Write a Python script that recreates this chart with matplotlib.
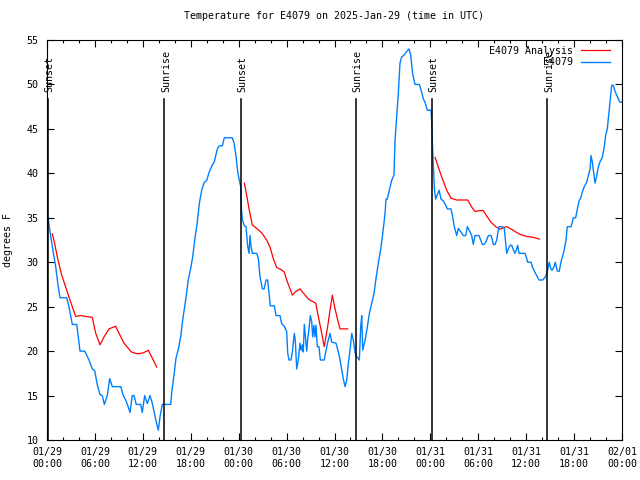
import matplotlib
matplotlib.use("Agg")
import matplotlib.pyplot as plt
from matplotlib.ticker import MultipleLocator, FixedLocator

# ---- data (hours since 2025-01-29 00:00 UTC, degrees F) ----
obs_hours = [0.13, 0.38, 0.66, 1.09, 1.38, 1.63, 2.47, 2.75, 3.17, 3.72, 3.92, 4.13, 4.72, 5.26, 5.67, 5.97,
             6.30, 6.64, 6.92, 7.18, 7.55, 7.85, 8.18, 9.23, 9.55, 9.85, 10.14, 10.39, 10.68, 10.89, 11.18,
             11.73, 11.93, 12.23, 12.56, 12.90, 13.19, 13.40, 13.69, 13.94, 14.15, 14.44, 15.49,
             15.62, 15.90, 16.15, 16.44, 16.74, 16.99, 17.15, 17.40, 17.69, 17.99, 18.24, 18.53, 18.82,
             19.07, 19.37, 19.70, 20.00, 20.29, 20.62, 20.95, 21.32, 21.57, 21.95, 22.20, 23.20, 23.42,
             23.67, 23.88, 24.08, 24.26, 24.29, 24.35, 24.46, 24.71, 24.92, 25.13, 25.30, 25.42, 25.55,
             25.71, 26.26, 26.46, 26.67, 26.96, 27.20, 27.42, 27.63, 27.84, 27.96, 28.46, 28.67, 29.17,
             29.38, 29.71, 30.01, 30.14, 30.30, 30.55, 30.72, 30.97, 31.09, 31.27, 31.47, 31.68, 31.81,
             31.97, 32.09, 32.22, 32.40, 32.52, 32.65, 32.81, 32.97, 33.15, 33.27, 33.43, 33.56, 33.68,
             33.85, 34.06, 34.22, 34.72, 34.90, 35.15, 35.44, 35.65, 36.19, 36.48, 36.69, 36.90, 37.10,
             37.32, 37.53, 37.73, 37.94, 38.16, 38.36, 38.57, 38.69, 39.11, 39.28, 39.41, 39.53, 39.82,
             40.11, 40.36, 40.66, 40.95, 41.20, 41.49, 41.79, 42.04, 42.33, 42.45, 42.61, 42.86, 43.16,
             43.45, 43.58, 43.79, 43.99, 44.20, 44.42, 44.70, 45.04, 45.33, 45.54, 45.79, 46.08, 46.62,
             46.83, 47.12, 47.37, 47.62, 48.09, 48.17, 48.25, 48.37, 48.50, 48.67, 48.84, 49.09, 49.34,
             49.62, 49.93, 50.13, 50.59, 50.80, 51.00, 51.30, 51.50, 51.84, 52.13, 52.43, 52.63, 52.97,
             53.18, 53.38, 53.59, 54.09, 54.31, 54.51, 54.76, 55.06, 55.26, 55.60, 55.76, 55.89, 56.10,
             56.31, 56.51, 56.60, 57.01, 57.26, 57.44, 57.56, 57.76, 57.98, 58.19, 58.39, 58.60, 58.81,
             58.94, 59.10, 59.86, 60.07, 60.19, 60.61, 60.77, 61.02, 61.32, 61.61, 62.07, 62.36, 62.57,
             62.77, 62.89, 63.07, 63.24, 63.49, 63.65, 63.90, 64.15, 64.33, 64.53, 64.74, 64.99, 65.15,
             65.62, 65.78, 65.90, 66.20, 66.41, 66.62, 66.83, 67.03, 67.28, 67.58, 67.78, 68.00, 68.12,
             68.28, 68.41, 68.62, 68.83, 69.03, 69.25, 69.53, 69.75, 69.96, 70.16, 70.37, 70.59, 70.71,
             70.91, 71.13, 71.34, 71.63, 71.75, 72.00]
obs_temps = [35.0, 33.4, 31.8, 29.5, 27.4, 26.0, 26.0, 25.0, 23.0, 23.0, 21.6, 20.0, 20.0, 19.0, 18.0, 17.8,
             16.2, 15.1, 15.0, 14.0, 15.0, 16.9, 16.0, 16.0, 15.0, 14.5, 13.8, 13.1, 15.0, 15.0, 14.0,
             14.0, 13.1, 15.0, 14.1, 15.0, 14.1, 13.2, 12.0, 11.1, 12.6, 14.0, 14.0,
             15.4, 17.3, 19.2, 20.2, 21.6, 23.5, 24.5, 26.0, 28.0, 29.3, 30.6, 32.7, 34.5,
             36.6, 38.1, 39.0, 39.2, 40.1, 40.8, 41.3, 42.7, 43.1, 43.1, 44.0, 44.0, 43.4,
             41.9, 40.2, 39.2, 38.5, 37.4, 35.9, 34.8, 34.1, 34.0, 31.8, 31.0, 33.0, 31.8,
             31.0, 31.0, 30.4, 28.4, 27.0, 27.0, 28.0, 28.0, 26.1, 25.1, 25.1, 24.0, 24.0,
             23.1, 22.8, 22.2, 19.8, 19.0, 19.0, 19.9, 22.0, 21.2, 18.0, 19.0, 20.9, 20.1,
             20.7, 19.9, 23.0, 21.2, 20.0, 21.4, 22.5, 24.0, 23.3, 21.6, 22.9, 21.6, 22.9,
             20.5, 20.5, 19.0, 19.0, 19.9, 21.0, 22.0, 21.0, 20.9, 19.9, 19.0, 17.9, 16.9,
             16.0, 16.7, 18.6, 20.1, 22.0, 21.2, 19.9, 19.5, 19.0, 22.7, 24.0, 20.1, 21.2,
             22.7, 24.2, 25.4, 26.5, 28.2, 29.9, 31.5, 33.2, 35.5, 37.1, 37.1, 38.1, 39.2,
             39.8, 43.7, 46.5, 49.0, 52.4, 53.1, 53.3, 53.7, 54.0, 53.3, 51.2, 50.0, 50.0,
             49.4, 48.4, 47.9, 47.1, 47.1, 45.8, 43.5, 40.9, 38.3, 37.1, 37.5, 38.1, 37.1,
             36.9, 36.4, 36.0, 36.0, 35.1, 34.0, 33.0, 33.8, 33.4, 33.0, 33.0, 34.0, 33.4,
             33.0, 32.0, 33.0, 33.0, 32.5, 32.0, 32.0, 32.5, 33.0, 33.0, 32.5, 32.0, 32.0,
             32.5, 33.6, 34.0, 34.0, 33.8, 32.1, 31.0, 31.5, 31.9, 31.9, 31.4, 31.0, 31.5,
             31.9, 31.0, 31.0, 30.4, 30.0, 30.0, 29.5, 29.0, 28.5, 28.0, 28.0, 28.3, 28.7,
             29.5, 30.0, 29.3, 29.1, 29.5, 30.0, 29.0, 29.0, 29.9, 30.6, 31.3, 32.5, 34.0,
             34.0, 34.5, 35.0, 35.0, 36.0, 36.9, 37.2, 37.9, 38.5, 39.0, 39.7, 40.5, 42.0,
             41.3, 40.4, 38.9, 39.7, 40.7, 41.3, 41.8, 42.8, 44.3, 45.0, 46.9, 49.0, 49.9,
             49.9, 49.2, 48.8, 48.2, 48.0, 48.0]

ana1_hours = [0.66, 0.96, 1.29, 1.79, 2.34, 2.97, 3.59, 4.22, 4.85, 5.67, 6.10, 6.64, 7.14, 7.76, 8.60,
              9.02, 9.64, 10.56, 11.31, 12.06, 12.68, 13.19, 13.74]
ana1_temps = [33.2, 32.1, 30.6, 28.7, 27.2, 25.5, 23.9, 24.0, 23.9, 23.8, 22.0, 20.7, 21.6, 22.5, 22.8,
              22.0, 20.9, 19.9, 19.7, 19.8, 20.1, 19.2, 18.2]
ana2_hours = [24.71, 25.01, 25.30, 25.71, 26.26, 26.89, 27.51, 27.92, 28.34, 28.76, 29.26, 29.71, 30.01,
              30.43, 30.72, 31.14, 31.68, 32.31, 32.81, 33.22, 33.65, 33.97, 34.31, 34.72, 35.15, 35.44,
              35.73, 36.06, 36.40, 36.69, 37.65]
ana2_temps = [38.9, 37.5, 36.0, 34.2, 33.8, 33.3, 32.5, 31.7, 30.4, 29.4, 29.2, 28.9, 28.0,
              27.0, 26.3, 26.7, 27.0, 26.3, 25.8, 25.6, 25.4, 23.9, 22.4, 20.5, 22.8, 24.6,
              26.3, 24.8, 23.5, 22.5, 22.5]
ana3_hours = [48.59, 49.00, 49.50, 50.05, 50.59, 51.30, 52.68, 53.18, 53.59, 54.09, 54.63, 55.06, 55.60,
              56.19, 56.73, 57.14, 57.56, 58.19, 58.69, 59.32, 60.07, 60.90, 61.65]
ana3_temps = [41.8, 40.7, 39.4, 38.1, 37.2, 37.0, 37.0, 36.2, 35.7, 35.8, 35.8, 35.2, 34.5,
              34.0, 33.7, 33.9, 34.0, 33.7, 33.4, 33.1, 32.9, 32.8, 32.6]

sun_hours = [0.08, 14.69, 24.25, 38.65, 48.17, 62.65]
sun_labels = ["Sunset", "Sunrise", "Sunset", "Sunrise", "Sunset", "Sunrise"]

xtick_hours = [0, 6, 12, 18, 24, 30, 36, 42, 48, 54, 60, 66, 72]
xtick_labels = ["01/29\n00:00", "01/29\n06:00", "01/29\n12:00", "01/29\n18:00",
                "01/30\n00:00", "01/30\n06:00", "01/30\n12:00", "01/30\n18:00",
                "01/31\n00:00", "01/31\n06:00", "01/31\n12:00", "01/31\n18:00",
                "02/01\n00:00"]
yticks = [10, 15, 20, 25, 30, 35, 40, 45, 50, 55]

title = "Temperature for E4079 on 2025-Jan-29 (time in UTC)"

# ---- styling ----
FONT = "DejaVu Sans Mono"
FS = 7.2
plt.rcParams["font.family"] = FONT
plt.rcParams["font.size"] = FS

fig = plt.figure(figsize=(6.4, 4.8), dpi=100)
ax = fig.add_axes([47 / 640, 40 / 480, 575 / 640, 400 / 480])

red = "#ff0000"
blue = "#0080ff"

ax.plot(ana1_hours, ana1_temps, color=red, lw=0.9, label="E4079 Analysis")
ax.plot(ana2_hours, ana2_temps, color=red, lw=0.9)
ax.plot(ana3_hours, ana3_temps, color=red, lw=0.9)
ax.plot(obs_hours, obs_temps, color=blue, lw=1.0, label="E4079")

line_top = 0.8525
for h, lab in zip(sun_hours, sun_labels):
    ax.axvline(h, ymin=0, ymax=line_top, color="black", lw=1.1)
    ax.text(h + 0.25, 0.87, lab, rotation=90, ha="center", va="bottom",
            transform=ax.get_xaxis_transform(), fontsize=FS, family=FONT)

ax.set_xlim(0, 72)
ax.set_ylim(10, 55)
ax.xaxis.set_major_locator(FixedLocator(xtick_hours))
ax.set_xticklabels(xtick_labels)
ax.xaxis.set_minor_locator(MultipleLocator(2))
ax.set_yticks(yticks)
ax.tick_params(axis="both", which="both", direction="in", top=True, right=True,
               labelsize=FS, color="black")
ax.tick_params(axis="both", which="major", length=5, width=0.8)
ax.tick_params(axis="both", which="minor", length=2.5, width=0.8)
ax.tick_params(axis="x", which="major", pad=5)
ax.tick_params(axis="y", which="major", pad=6)
for s in ax.spines.values():
    s.set_linewidth(0.8)
    s.set_color("black")

ax.set_title(title, fontsize=FS, pad=15)
ax.set_ylabel("degrees F", fontsize=FS, labelpad=10)

leg = ax.legend(loc="upper right", bbox_to_anchor=(1 - 6 / 575, 1), frameon=False,
                fontsize=FS, handlelength=2.9, markerfirst=False, borderaxespad=0.2,
                labelspacing=0.15, handletextpad=0.8)
for t in leg.get_texts():
    t.set_ha("right")

fig.savefig("out.png", dpi=100)
